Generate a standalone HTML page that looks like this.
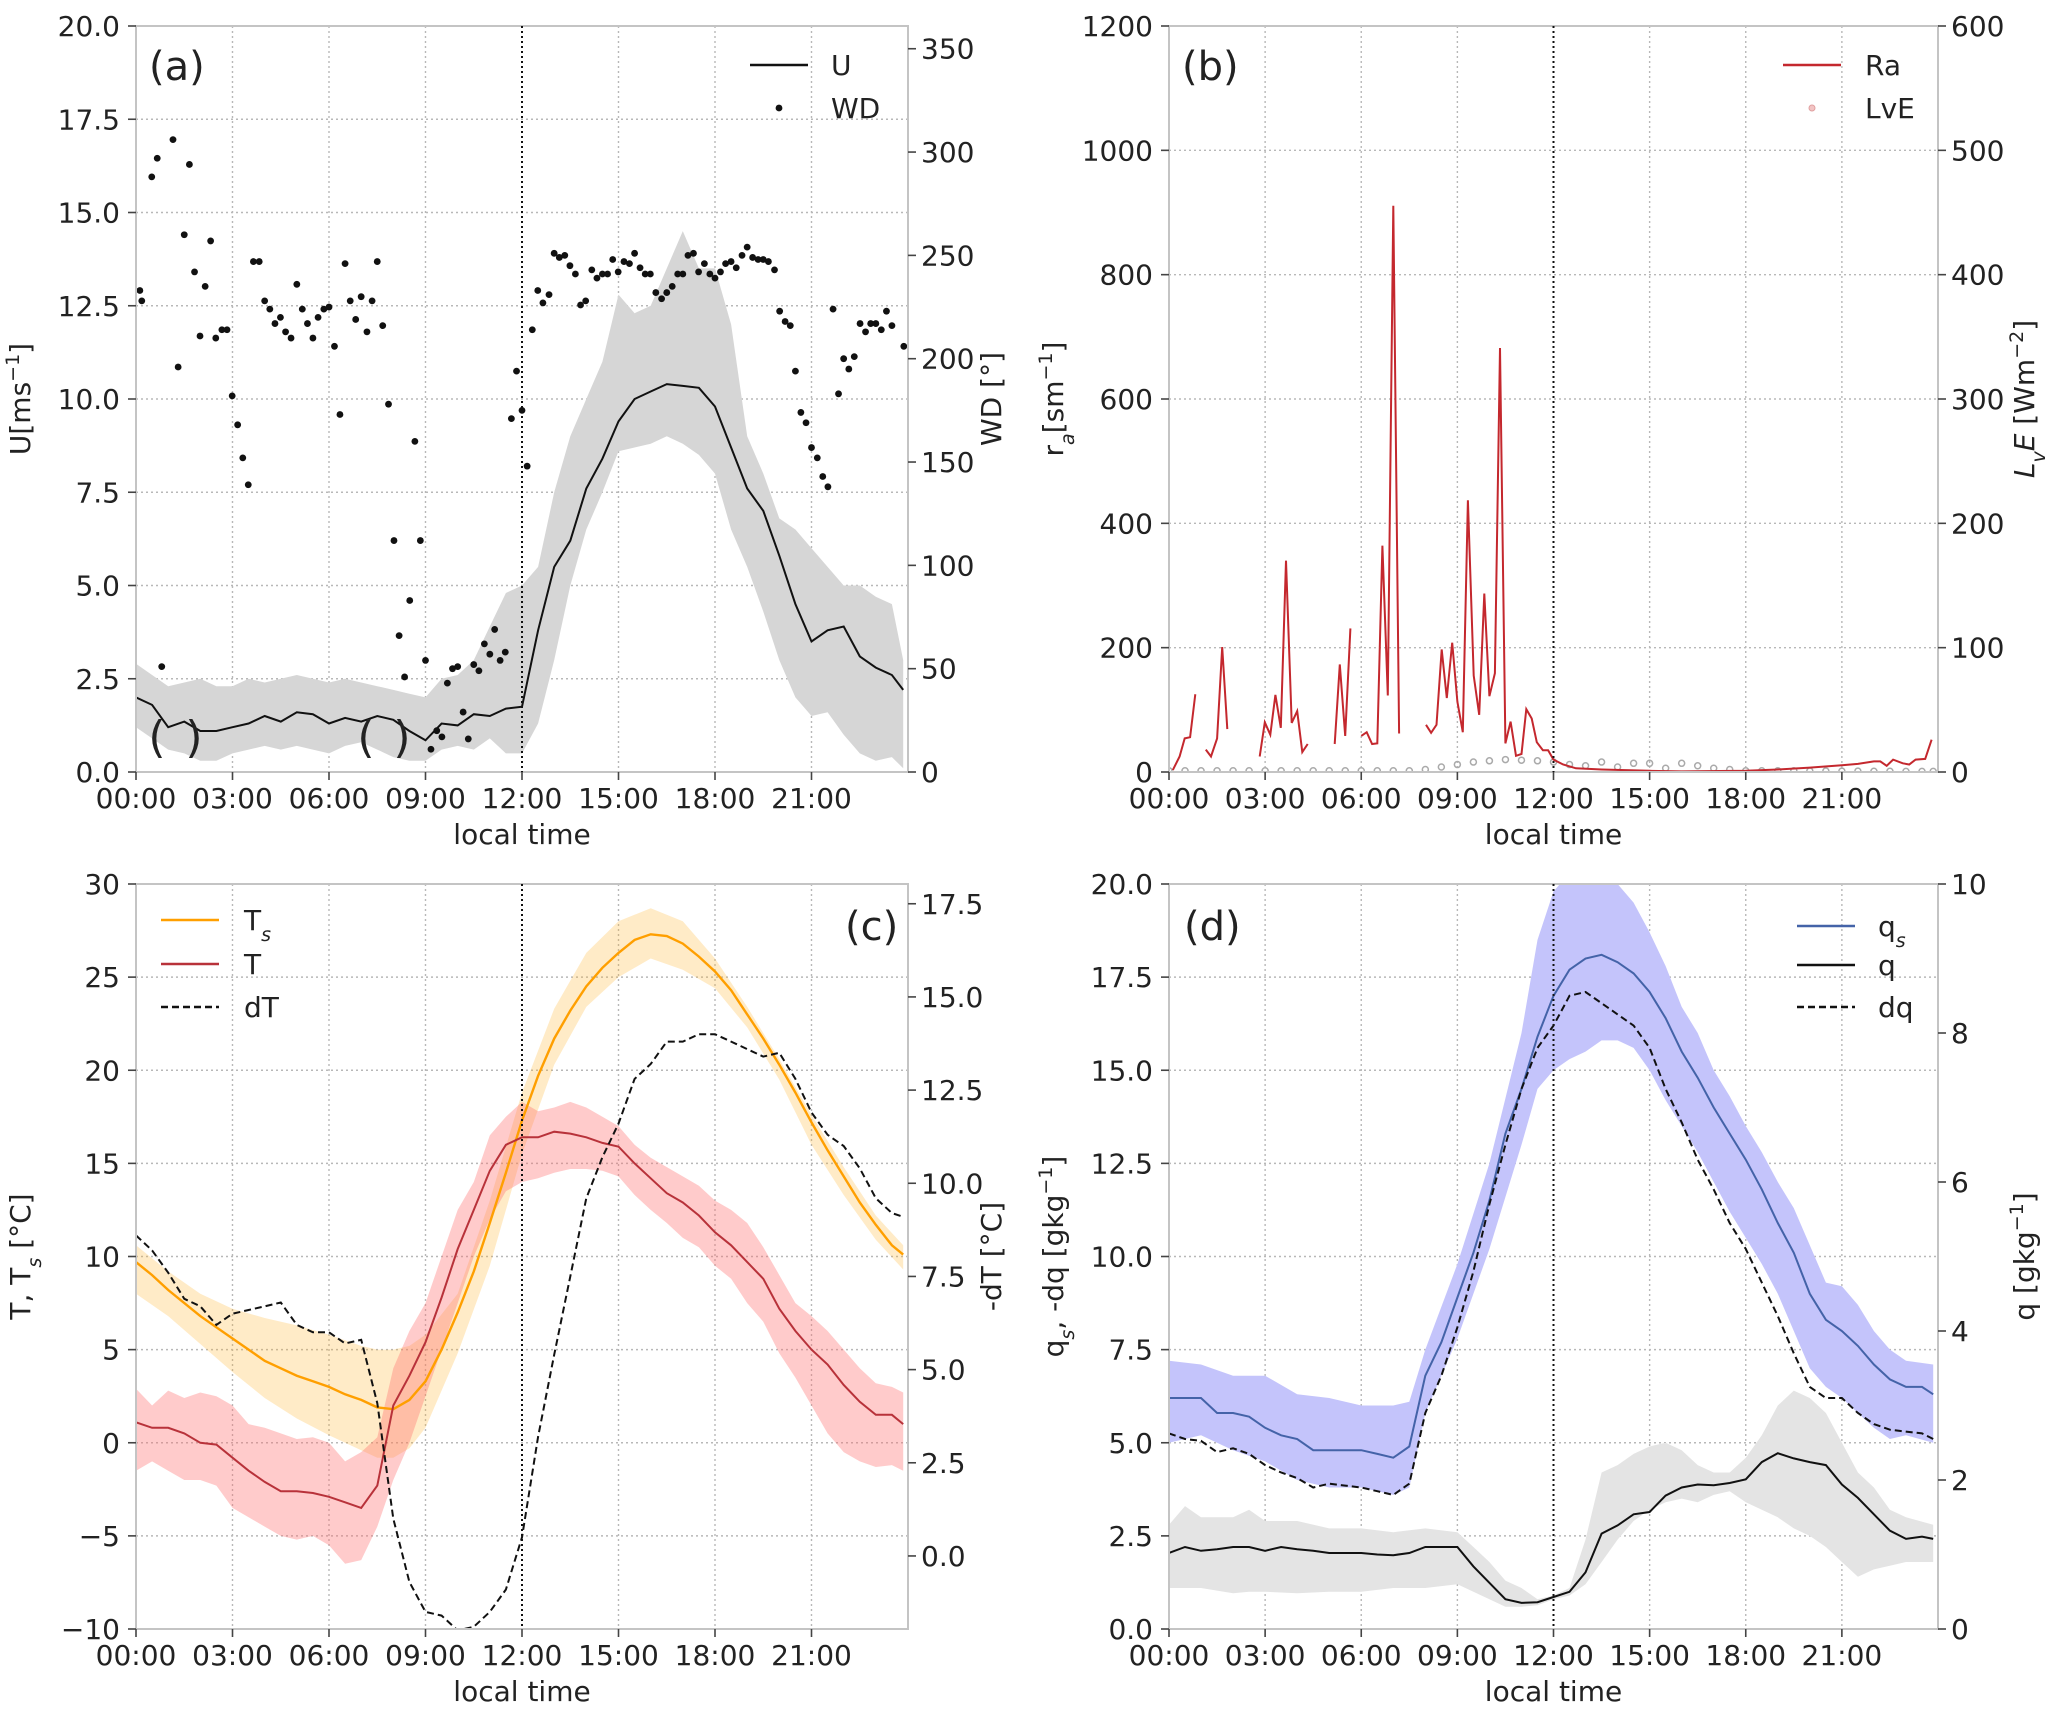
<!DOCTYPE html>
<html><head><meta charset="utf-8"><title>Diurnal cycles</title>
<style>
html,body{margin:0;padding:0;background:#fff;}
svg text{font-family:"DejaVu Sans","Liberation Sans",sans-serif;fill:#222;}
</style></head>
<body>
<svg id="fig" xmlns="http://www.w3.org/2000/svg" width="2067" height="1719" viewBox="0 0 2067 1719">
<defs>
<clipPath id="clipA"><rect x="136" y="26" width="772" height="746"/></clipPath>
<clipPath id="clipB"><rect x="1169" y="26" width="769" height="746"/></clipPath>
<clipPath id="clipC"><rect x="136" y="884" width="772" height="745"/></clipPath>
<clipPath id="clipD"><rect x="1169" y="884" width="769" height="745"/></clipPath>
</defs>
</svg>
<script>
// ---------- DATA ----------
const grid = [0,0.5,1,1.5,2,2.5,3,3.5,4,4.5,5,5.5,6,6.5,7,7.5,8,8.5,9,9.5,10,10.5,11,11.5,12,12.5,13,13.5,14,14.5,15,15.5,16,16.5,17,17.5,18,18.5,19,19.5,20,20.5,21,21.5,22,22.5,23,23.5,23.85];
const xTickHours = [0,3,6,9,12,15,18,21];
const xTickLabels = ["00:00","03:00","06:00","09:00","12:00","15:00","18:00","21:00"];

// panel a
const uMean = [2.0,1.8,1.2,1.35,1.1,1.1,1.2,1.3,1.5,1.35,1.6,1.55,1.3,1.45,1.35,1.5,1.4,1.1,0.85,1.3,1.25,1.55,1.5,1.7,1.75,3.8,5.5,6.2,7.6,8.4,9.4,10.0,10.2,10.4,10.35,10.3,9.8,8.7,7.6,7.0,5.8,4.5,3.5,3.8,3.9,3.1,2.8,2.6,2.2];
const uHigh = [2.9,2.6,2.3,2.4,2.5,2.3,2.3,2.5,2.4,2.5,2.6,2.5,2.4,2.5,2.4,2.3,2.2,2.1,2.0,2.5,2.6,3.0,3.9,4.8,5.0,5.5,7.5,9.0,10.0,11.0,12.8,12.3,12.5,13.5,14.5,13.5,13.5,12.0,9.0,8.0,6.8,6.5,6.0,5.5,5.0,5.0,4.7,4.5,3.0];
const uLow = [1.2,0.9,0.6,0.5,0.3,0.3,0.5,0.6,0.7,0.6,0.7,0.6,0.5,0.7,0.8,0.6,0.4,0.3,0.3,0.6,0.7,0.6,0.9,0.5,0.5,1.3,3.0,5.0,6.5,7.5,8.6,8.7,8.8,9.0,8.8,8.5,8.0,6.5,5.5,4.3,3.0,2.0,1.5,1.6,1.0,0.5,0.3,0.4,0.1];
const wdTimes = [0.12,0.18,0.49,0.66,0.8,1.15,1.31,1.5,1.66,1.82,1.99,2.15,2.32,2.48,2.67,2.83,2.99,3.16,3.32,3.49,3.65,3.83,4.0,4.16,4.32,4.49,4.65,4.82,5.0,5.17,5.33,5.5,5.66,5.84,6.0,6.17,6.34,6.5,6.66,6.83,7.0,7.18,7.34,7.5,7.67,7.85,8.02,8.18,8.35,8.51,8.67,8.84,9.0,9.17,9.35,9.51,9.68,9.84,10.0,10.17,10.33,10.5,10.66,10.83,11.0,11.15,11.32,11.48,11.67,11.83,12.0,12.16,12.32,12.49,12.65,12.84,13.0,13.16,13.33,13.49,13.66,13.82,13.98,14.17,14.33,14.5,14.66,14.82,14.99,15.17,15.34,15.5,15.67,15.83,15.99,16.16,16.34,16.5,16.67,16.84,17.0,17.16,17.33,17.49,17.67,17.84,18.0,18.17,18.33,18.5,18.66,18.84,19.0,19.17,19.34,19.5,19.66,19.85,20.01,20.18,20.34,20.5,20.67,20.83,21.0,21.18,21.35,21.51,21.67,21.84,22.0,22.16,22.33,22.51,22.68,22.84,23.0,23.17,23.33,23.5,23.87];
const wdValues = [233,228,288,297,51,306,196,260,294,242,211,235,257,210,214,214,182,168,152,139,247,247,228,224,217,220,213,210,236,224,217,210,220,224,225,206,173,246,228,219,230,213,228,247,216,178,112,66,46,83,160,112,54,11,20,17,43,50,51,29,16,52,49,62,57,69,54,58,171,194,175,148,214,233,227,231,251,249,250,245,241,226,228,243,239,241,241,248,242,247,246,251,244,241,241,232,229,232,235,241,241,250,251,242,246,241,239,242,246,247,244,250,254,249,248,248,247,243,223,218,216,194,174,169,157,152,143,138,224,183,200,195,201,217,213,217,217,214,223,216,206];

// panel b
const raTimes = [0.12,0.33,0.49,0.66,0.82,0.9, 1.15,1.31,1.5,1.66,1.82,1.9, 2.83,2.99,3.16,3.32,3.49,3.65,3.83,4.0,4.16,4.33,4.4, 5.17,5.33,5.5,5.66,5.8, 6.0,6.17,6.34,6.5,6.66,6.83,7.0,7.18,7.3, 8.02,8.18,8.35,8.51,8.67,8.84,9.0,9.17,9.33,9.51,9.68,9.84,10.0,10.17,10.33,10.5,10.66,10.83,11.0,11.15,11.32,11.48,11.67,11.83,12.0,12.3,12.7,13.5,15,16,18,19,20,21,21.5,22,22.2,22.4,22.6,22.9,23.1,23.3,23.6,23.8];
const raValues = [3,25,54,56,125,null, 36,25,54,201,69,null, 25,80,60,124,71,340,79,98,32,45,null, 45,173,58,231,null, 58,64,45,46,364,123,911,62,null, 76,63,76,197,119,208,113,64,437,155,92,287,122,159,682,46,81,26,29,101,86,48,35,35,20,12,6,4,2,1,2,4,7,11,13,17,17,10,20,14,12,20,21,52];
const lveValues = [1,1,1,1,1,1,1,1,1,1,1,1,1,1,1,1,2,4,6,8,9,10,9.5,9,8,6,5,8,4,7,7,3,7,5,3,2,1,1,1,1,0.8,0.8,0.7,0.7,0.6,0.6,0.5,0.5,0.5];

// panel c
const tsMean = [9.7,9.0,8.2,7.5,6.8,6.2,5.6,5.0,4.4,4.0,3.6,3.3,3.0,2.6,2.3,1.9,1.8,2.3,3.3,5.0,7.0,9.2,11.8,14.5,17.3,19.7,21.7,23.2,24.5,25.5,26.3,27.0,27.3,27.2,26.8,26.1,25.3,24.3,23.0,21.7,20.3,18.8,17.2,15.7,14.3,12.9,11.7,10.6,10.1];
const tsBandTimes = [0,1,2,3,4,5,6,7,7.5,8,8.5,9,10,11,12,13,14,15,16,17,18,19,20,21,22,23,23.85];
const tsHigh = [10.6,9.2,8.0,7.2,6.7,6.3,5.8,5.2,5.0,5.0,5.2,5.8,8.0,13.0,18.8,23.3,26.3,28.0,28.7,28.0,26.0,23.4,20.6,17.6,14.8,12.2,10.6];
const tsLow = [8.0,6.8,5.3,3.8,2.4,1.3,0.4,-0.4,-0.8,-0.8,-0.3,0.8,4.8,9.5,15.5,20.3,23.4,25.0,26.0,25.4,24.4,22.3,19.5,16.0,13.3,10.9,9.3];
const tMean = [1.1,0.8,0.8,0.5,0.0,-0.1,-0.8,-1.5,-2.1,-2.6,-2.6,-2.7,-2.9,-3.2,-3.5,-2.3,2.0,3.6,5.4,7.8,10.4,12.5,14.6,16.0,16.4,16.4,16.7,16.6,16.4,16.1,15.9,15.0,14.2,13.4,12.9,12.2,11.3,10.6,9.7,8.8,7.2,6.0,5.0,4.2,3.1,2.2,1.5,1.5,1.0];
const tHigh = [2.9,2.0,2.8,2.4,2.7,2.5,2.0,1.0,0.8,0.5,0.2,0.3,0.0,-1.0,-0.5,0.3,4.0,6.0,7.5,10.0,12.5,14.0,16.5,17.5,18.3,17.8,18.0,18.3,18.0,17.5,17.0,16.0,15.3,14.8,14.3,13.8,13.0,12.5,11.8,10.5,9.0,7.5,6.8,6.0,5.0,4.0,3.2,3.0,2.7];
const tLow = [-1.5,-1.0,-1.5,-2.0,-2.0,-2.3,-3.5,-4.0,-4.5,-5.0,-5.2,-5.0,-5.5,-6.5,-6.3,-4.5,-2.0,0.0,2.5,5.0,7.5,10.0,12.0,13.5,14.0,14.2,14.5,14.7,14.7,14.6,14.3,13.3,12.5,11.8,11.0,10.5,9.5,8.8,7.5,6.5,4.8,3.5,2.0,0.5,-0.5,-1.0,-1.3,-1.2,-1.5];
const dtMean = [8.6,8.2,7.6,6.9,6.7,6.2,6.5,6.6,6.7,6.8,6.2,6.0,6.0,5.7,5.8,4.1,1.0,-0.7,-1.5,-1.6,-2.0,-1.9,-1.5,-0.9,0.5,3.2,5.4,7.5,9.6,10.7,11.6,12.8,13.2,13.8,13.8,14.0,14.0,13.8,13.6,13.4,13.5,12.8,11.9,11.3,11.0,10.4,9.6,9.2,9.1];

// panel d
const qsMean = [6.2,6.2,6.2,5.8,5.8,5.7,5.4,5.2,5.1,4.8,4.8,4.8,4.8,4.7,4.6,4.9,6.8,7.7,8.9,10.1,11.5,13.3,14.5,15.9,17.0,17.7,18.0,18.1,17.9,17.6,17.1,16.4,15.5,14.8,14.0,13.3,12.6,11.8,10.9,10.1,9.0,8.3,8.0,7.6,7.1,6.7,6.5,6.5,6.3];
const qsBandTimes = [0,1,2,3,4,5,6,7,7.5,8,9,10,11,11.5,12,12.5,13,13.5,14,14.5,15,15.5,16,16.5,17,17.5,18,18.5,19,19.5,20,20.5,21,21.5,22,22.5,23,23.85];
const qsHigh = [7.2,7.1,6.8,6.8,6.3,6.2,6.0,6.0,6.1,7.5,9.8,12.5,16.0,18.5,19.8,20.3,20.0,20.3,20.0,19.5,18.7,17.8,16.7,16.0,15.0,14.3,13.5,12.8,12.0,11.3,10.3,9.3,9.2,8.7,8.0,7.5,7.2,7.1];
const qsLow = [5.0,5.2,4.8,4.5,4.0,3.8,3.8,3.6,3.8,5.8,7.8,10.2,13.0,14.5,15.0,15.3,15.5,15.8,15.8,15.6,15.0,14.2,13.5,12.8,12.0,11.2,10.5,9.8,9.0,8.0,7.0,6.5,6.2,5.8,5.4,5.1,5.2,5.0];
const dqMean = [5.25,5.1,5.05,4.75,4.85,4.7,4.4,4.2,4.05,3.8,3.9,3.85,3.8,3.7,3.6,3.9,5.8,6.8,8.1,9.6,11.4,13.0,14.5,15.6,16.2,17.0,17.1,16.8,16.5,16.2,15.6,14.5,13.6,12.6,11.8,10.9,10.2,9.3,8.4,7.4,6.5,6.2,6.2,5.8,5.5,5.35,5.3,5.25,5.1];
const qMean = [1.02,1.1,1.05,1.07,1.1,1.1,1.05,1.1,1.07,1.05,1.02,1.02,1.02,1.0,0.99,1.02,1.1,1.1,1.1,0.84,0.62,0.40,0.35,0.36,0.43,0.5,0.76,1.28,1.39,1.54,1.57,1.79,1.9,1.94,1.93,1.96,2.01,2.24,2.36,2.29,2.24,2.2,1.94,1.76,1.54,1.32,1.21,1.24,1.21];
const qBandTimes = [0,0.5,1,2,2.5,3,4,5,6,7,8,9,9.5,10,10.5,11,11.5,12,12.5,13,13.5,14,14.5,15,15.5,16,16.5,17,17.5,18,18.5,19,19.5,20,20.5,21,21.5,22,22.5,23,23.85];
const qHigh = [1.4,1.65,1.5,1.5,1.6,1.45,1.45,1.35,1.35,1.3,1.35,1.3,1.1,0.9,0.65,0.55,0.4,0.45,0.55,1.2,2.1,2.2,2.35,2.45,2.5,2.4,2.2,2.1,2.1,2.3,2.6,3.0,3.2,3.1,2.9,2.5,2.1,1.9,1.6,1.5,1.4];
const qLow = [0.55,0.55,0.55,0.48,0.5,0.5,0.48,0.5,0.5,0.55,0.55,0.6,0.5,0.4,0.3,0.3,0.32,0.4,0.45,0.6,0.9,1.2,1.45,1.6,1.7,1.75,1.7,1.8,1.85,1.7,1.6,1.5,1.35,1.25,1.1,0.9,0.7,0.8,0.85,0.9,0.9];

// ---------- RENDER ----------
const NS = "http://www.w3.org/2000/svg";
const svg = document.getElementById("fig");
function mk(tag, attrs, parent, name, inter) {
  const e = document.createElementNS(NS, tag);
  for (const k in attrs) e.setAttribute(k, attrs[k]);
  
  
  (parent || svg).appendChild(e);
  return e;
}
function lin(d0, d1, r0, r1) { return v => r0 + (v - d0) / (d1 - d0) * (r1 - r0); }
function lineD(ts, vs, sx, sy) {
  let d = "", pen = false;
  for (let i = 0; i < ts.length; i++) {
    if (vs[i] === null) { pen = false; continue; }
    d += (pen ? "L" : "M") + sx(ts[i]).toFixed(1) + "," + sy(vs[i]).toFixed(1);
    pen = true;
  }
  return d;
}
function bandD(ts, hi, lo, sx, sy) {
  let d = "";
  for (let i = 0; i < ts.length; i++) d += (i ? "L" : "M") + sx(ts[i]).toFixed(1) + "," + sy(hi[i]).toFixed(1);
  for (let i = ts.length - 1; i >= 0; i--) d += "L" + sx(ts[i]).toFixed(1) + "," + sy(lo[i]).toFixed(1);
  return d + "Z";
}
const minus = s => s.replace("-", "\u2212");

function panel(id, x0, x1, y0, y1, lDom, lTicks, lFmt, rDom, rTicks, rFmt) {
  const g = mk("g", {}, svg, "panel-" + id);
  const sx = lin(0, 24, x0, x1);
  const syL = lin(lDom[0], lDom[1], y1, y0);
  const syR = lin(rDom[0], rDom[1], y1, y0);
  const grid = mk("g", {stroke: "#b8b8b8", "stroke-width": 1.4, "stroke-dasharray": "2,3"}, g, "gridlines-" + id);
  xTickHours.forEach(h => {
    const gl = mk("line", {x1: sx(h), x2: sx(h), y1: y0, y2: y1}, grid, "x-gridline");
  });
  lTicks.forEach(v => {
    const gl = mk("line", {x1: x0, x2: x1, y1: syL(v), y2: syL(v)}, grid, "y-gridline");
  });
  const data = mk("g", {"clip-path": "url(#clip" + id + ")"}, g, "plot-area-" + id);
  const frame = mk("rect", {x: x0, y: y0, width: x1 - x0, height: y1 - y0, fill: "none", stroke: "#c4c4c4", "stroke-width": 2}, g, "axes-frame-" + id);
  const ax = mk("g", {}, g, "axes-" + id);
  xTickHours.forEach((h, i) => {
    const t = mk("line", {x1: sx(h), x2: sx(h), y1: y1, y2: y1 + 8, stroke: "#444", "stroke-width": 1.6}, ax, "x-tick");
    const lb = mk("text", {x: sx(h), y: y1 + 36, "font-size": 28, "text-anchor": "middle"}, ax, "x-tick-label");
    lb.textContent = xTickLabels[i];
  });
  lTicks.forEach(v => {
    const t = mk("line", {x1: x0 - 8, x2: x0, y1: syL(v), y2: syL(v), stroke: "#444", "stroke-width": 1.6}, ax, "left-y-tick");
    const lb = mk("text", {x: x0 - 16, y: syL(v) + 10, "font-size": 28, "text-anchor": "end"}, ax, "left-y-tick-label");
    lb.textContent = minus(lFmt(v));
  });
  rTicks.forEach(v => {
    const t = mk("line", {x1: x1, x2: x1 + 8, y1: syR(v), y2: syR(v), stroke: "#444", "stroke-width": 1.6}, ax, "right-y-tick");
    const lb = mk("text", {x: x1 + 13, y: syR(v) + 10, "font-size": 28, "text-anchor": "start"}, ax, "right-y-tick-label");
    lb.textContent = minus(rFmt(v));
  });
  const xl = mk("text", {x: (x0 + x1) / 2, y: y1 + 72, "font-size": 28, "text-anchor": "middle"}, ax, "x-axis-title");
  xl.textContent = "local time";
  const noon = mk("line", {x1: sx(12), x2: sx(12), y1: y0, y2: y1, stroke: "#111", "stroke-width": 2, "stroke-dasharray": "2,3"}, g, "noon-marker");
  return {g, data, sx, syL, syR, x0, x1, y0, y1};
}
function ytitle(p, x, html, name) {
  const t = mk("text", {x: x, y: (p.y0 + p.y1) / 2, "font-size": 28, "text-anchor": "middle", transform: "rotate(-90 " + x + " " + (p.y0 + p.y1) / 2 + ")"}, p.g, name);
  t.innerHTML = html;
}
function letter(p, x, y, s) {
  const t = mk("text", {x: x, y: y, "font-size": 40}, p.g, "panel-label");
  t.textContent = s;
}
function legLine(p, x, y, color, dash, label, tx) {
  const l = mk("line", {x1: x, x2: x + 58, y1: y, y2: y, stroke: color, "stroke-width": 2.5, "stroke-dasharray": dash || "none"}, p.g, "legend-line");
  const t = mk("text", {x: tx, y: y + 10, "font-size": 28}, p.g, "legend-label");
  t.innerHTML = label;
}
const sup = s => '<tspan baseline-shift="super" font-size="19">' + s + '</tspan>';
const sub = s => '<tspan baseline-shift="sub" font-size="19" font-style="italic">' + s + '</tspan>';
const rng = (a, b, s) => { const r = []; for (let v = a; v <= b + 1e-9; v += s) r.push(+v.toFixed(3)); return r; };

// Panel A
const A = panel("A", 136, 908, 26, 772, [0, 20], rng(0, 20, 2.5), v => v.toFixed(1), [0, 361], rng(0, 350, 50), v => String(v));
mk("path", {d: bandD(grid, uHigh, uLow, A.sx, A.syL), fill: "#d6d6d6", stroke: "none"}, A.data, "u-spread-band");
mk("path", {d: lineD(grid, uMean, A.sx, A.syL), fill: "none", stroke: "#111", "stroke-width": 2}, A.data, "u-line");
const wdG = mk("g", {fill: "#111"}, A.data, "wd-points");
wdTimes.forEach((t, i) => {
  const c = mk("circle", {cx: A.sx(t), cy: A.syR(wdValues[i]), r: 3.4}, wdG, "wd-point");
});
[[157, "("], [194, ")"], [366, "("], [402, ")"]].forEach(p => {
  const t = mk("text", {x: p[0], y: 752, "font-size": 44, "text-anchor": "middle", fill: "#111"}, A.g, "gap-bracket");
  t.textContent = p[1];
});
ytitle(A, 30, "U[ms" + sup("\u22121") + "]", "left-y-axis-title");
ytitle(A, 1001, "WD [°]", "right-y-axis-title");
letter(A, 149, 80, "(a)");
legLine(A, 750, 65, "#111", null, "U", 831);
mk("circle", {cx: 779, cy: 108, r: 3.4, fill: "#111"}, A.g, "legend-marker");
(function(){ const t = mk("text", {x: 831, y: 118, "font-size": 28}, A.g, "legend-label"); t.textContent = "WD"; })();

// Panel B
const B = panel("B", 1169, 1938, 26, 772, [0, 1200], rng(0, 1200, 200), v => String(v), [0, 600], rng(0, 600, 100), v => String(v));
const lveG = mk("g", {fill: "none", stroke: "#aaaaaa", "stroke-width": 1.5}, B.data, "lve-points");
grid.forEach((t, i) => {
  const c = mk("circle", {cx: B.sx(t), cy: B.syR(lveValues[i]), r: 3}, lveG, "lve-point");
});
mk("path", {d: lineD(raTimes, raValues, B.sx, B.syL), fill: "none", stroke: "#c4282e", "stroke-width": 2}, B.data, "ra-line");
ytitle(B, 1063, "r" + sub("a") + "[sm" + sup("\u22121") + "]", "left-y-axis-title");
ytitle(B, 2034, '<tspan font-style="italic">L</tspan>' + sub("v") + '<tspan font-style="italic">E</tspan> [Wm' + sup("\u22122") + "]", "right-y-axis-title");
letter(B, 1182, 80, "(b)");
legLine(B, 1783, 65, "#c4282e", null, "Ra", 1865);
mk("circle", {cx: 1812, cy: 108, r: 3, fill: "#f2c4c4", stroke: "#e0a0a0"}, B.g, "legend-marker");
(function(){ const t = mk("text", {x: 1865, y: 118, "font-size": 28}, B.g, "legend-label"); t.textContent = "LvE"; })();

// Panel C
const C = panel("C", 136, 908, 884, 1629, [-10, 30], rng(-10, 30, 5), v => String(v), [-1.96, 18.03], rng(0, 17.5, 2.5), v => v.toFixed(1));
mk("path", {d: bandD(tsBandTimes, tsHigh, tsLow, C.sx, C.syL), fill: "#ffb020", "fill-opacity": 0.25, stroke: "none"}, C.data, "ts-spread-band");
mk("path", {d: bandD(grid, tHigh, tLow, C.sx, C.syL), fill: "#ff6b6b", "fill-opacity": 0.35, stroke: "none"}, C.data, "t-spread-band");
mk("path", {d: lineD(grid, tsMean, C.sx, C.syL), fill: "none", stroke: "#ff9f00", "stroke-width": 2.4}, C.data, "ts-line");
mk("path", {d: lineD(grid, tMean, C.sx, C.syL), fill: "none", stroke: "#b8323a", "stroke-width": 2}, C.data, "t-line");
mk("path", {d: lineD(grid, dtMean, C.sx, C.syR), fill: "none", stroke: "#111", "stroke-width": 2, "stroke-dasharray": "7,4"}, C.data, "dt-line");
ytitle(C, 30, "T, T" + sub("s") + " [°C]", "left-y-axis-title");
ytitle(C, 1001, "-dT [°C]", "right-y-axis-title");
letter(C, 845, 940, "(c)");
legLine(C, 161, 920, "#ff9f00", null, "T" + sub("s"), 244);
legLine(C, 161, 964, "#b8323a", null, "T", 244);
legLine(C, 161, 1007, "#111", "7,4", "dT", 244);

// Panel D
const D = panel("D", 1169, 1938, 884, 1629, [0, 20], rng(0, 20, 2.5), v => v.toFixed(1), [0, 10], rng(0, 10, 2), v => String(v));
mk("path", {d: bandD(qBandTimes, qHigh, qLow, D.sx, D.syR), fill: "#e4e4e4", stroke: "none"}, D.data, "q-spread-band");
mk("path", {d: bandD(qsBandTimes, qsHigh, qsLow, D.sx, D.syL), fill: "#c4c4fb", stroke: "none"}, D.data, "qs-spread-band");
mk("path", {d: lineD(grid, qsMean, D.sx, D.syL), fill: "none", stroke: "#4463a8", "stroke-width": 2}, D.data, "qs-line");
mk("path", {d: lineD(grid, dqMean, D.sx, D.syL), fill: "none", stroke: "#111", "stroke-width": 2, "stroke-dasharray": "7,4"}, D.data, "dq-line");
mk("path", {d: lineD(grid, qMean, D.sx, D.syR), fill: "none", stroke: "#111", "stroke-width": 2}, D.data, "q-line");
ytitle(D, 1063, "q" + sub("s") + ", -dq [gkg" + sup("\u22121") + "]", "left-y-axis-title");
ytitle(D, 2034, "q [gkg" + sup("\u22121") + "]", "right-y-axis-title");
letter(D, 1184, 940, "(d)");
legLine(D, 1797, 926, "#4463a8", null, "q" + sub("s"), 1878);
legLine(D, 1797, 965, "#111", null, "q", 1878);
legLine(D, 1797, 1007, "#111", "7,4", "dq", 1878);
</script>
</body></html>
